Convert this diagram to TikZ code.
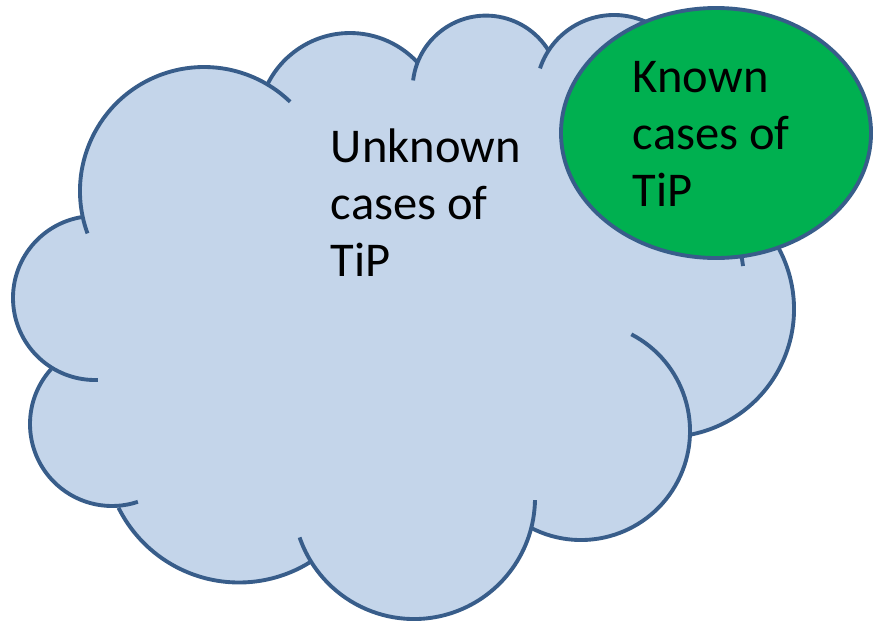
\documentclass[tikz,border=0pt]{standalone}
\usepackage{fontspec}
\setmainfont{Carlito}
\definecolor{cloudfill}{HTML}{C4D5EA}
\definecolor{cloudline}{HTML}{385D8A}
\definecolor{knowngreen}{HTML}{00B050}
\begin{document}
\begin{tikzpicture}[x=0.01cm,y=-0.01cm,line width=1.1pt,
	casetext/.style={align=left,anchor=base west,inner sep=0pt,font=\fontsize{13.8}{16.2}\selectfont}]
	\useasboundingbox (0,0) rectangle (874,621);
	
	\begin{scope}
		\fill[cloudfill] (83,217) -- (267,85) -- (417,62) -- (549,50) -- (640,40) -- (740,150)
		-- (760,250) -- (691,435) -- (531,528) -- (310,563) -- (118,508) -- (50,370) -- cycle;
		\foreach \cx/\cy/\r in {204/191/124,95/298/82,112/424/82,239/448/134.5,414/498/121,
				581/431/109,666/309/128,614/93/78,350/125/92,486/89/73.4}
			\fill[cloudfill] (\cx,\cy) circle[radius=\r];
	\end{scope}
	
	\begin{scope}[cloudline]
		\foreach \cx/\cy/\r/\a/\b in {204/191/124/160/314,95/298/82/262/88,112/424/82/222/71.6,
				239/448/134.5/153.6/58.3,414/498/121/161/1,581/431/109/117.3/-62.5,
				666/309/128/78.6/-60,614/93/78/198.4/340,350/125/92/205.8/316.8,486/89/73.4/186.7/328.4}
			\draw (\cx,\cy) ++(\a:\r) arc[start angle=\a,end angle=\b,radius=\r];
		\draw (741,252) -- (743,266);
	\end{scope}
	
	\draw[cloudline,fill=knowngreen] (716,133) ellipse[x radius=155,y radius=125];
	
	% the last line sits on the given baseline
	\node[casetext] (unknown) at (329,276.7) {Unknown\\cases of\\TiP};
	\node[casetext] (known) at (631,206.7) {Known\\cases of\\TiP};
	
\end{tikzpicture}
\end{document}
